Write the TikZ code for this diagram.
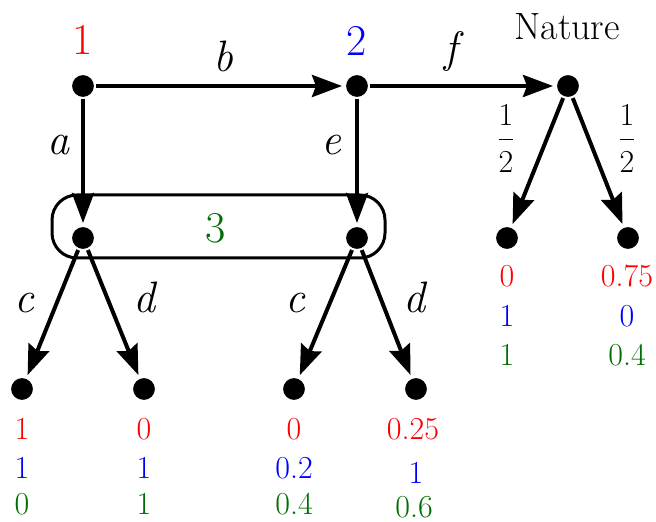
\documentclass[tikz,border=0pt]{standalone}
\usetikzlibrary{arrows.meta}
\definecolor{pred}{RGB}{255,0,0}
\definecolor{pblue}{RGB}{0,0,255}
\definecolor{pgreen}{RGB}{0,110,0}
\begin{document}
\begin{tikzpicture}[x=0.5pt,y=-0.5pt,
  dot/.style={circle,fill=black,draw=white,line width=1pt,inner sep=0pt,minimum size=12pt},
  edge/.style={line width=2pt,-{Stealth[length=15pt,width=11pt,inset=2pt]},shorten >=1pt},
  lab/.style={font=\fontsize{22}{26}\selectfont\itshape,anchor=base,inner sep=0pt},
  player/.style={font=\fontsize{22}{26}\selectfont,anchor=base,inner sep=0pt},
  pay/.style={font=\fontsize{16}{19}\selectfont,anchor=base,inner sep=0pt},
  frac/.style={font=\fontsize{16}{19}\selectfont,inner sep=0pt}]
\useasboundingbox (0,0) rectangle (656,522);
% information set
\draw[line width=1.5pt,rounded corners=12.5pt] (52,195) rectangle (385,258);
% nodes
\node[dot] (n1) at (83,86) {};
\node[dot] (n2) at (357,86) {};
\node[dot] (nat) at (568,86) {};
\node[dot] (n3a) at (83,238) {};
\node[dot] (n3b) at (357,238) {};
\node[dot] (nl) at (507,238) {};
\node[dot] (nr) at (628,238) {};
\node[dot] (l1) at (22,389) {};
\node[dot] (l2) at (144,389) {};
\node[dot] (l3) at (294,389) {};
\node[dot] (l4) at (416,389) {};
% edges
\draw[edge] (n1) -- (n2);
\draw[edge] (n2) -- (nat);
\draw[edge] (n1) -- (n3a);
\draw[edge] (n2) -- (n3b);
\draw[edge] (n3a) -- (l1);
\draw[edge] (n3a) -- (l2);
\draw[edge] (n3b) -- (l3);
\draw[edge] (n3b) -- (l4);
\draw[edge] (nat) -- (nl);
\draw[edge] (nat) -- (nr);
% player labels
\node[player,text=pred] (p1) at (83,55) {1};
\node[player,text=pblue] (p2) at (357,56) {2};
\node[player,text=pgreen] (p3) at (216,243) {3};
\node[font=\fontsize{19}{23}\selectfont,anchor=base,inner sep=0pt] (pn) at (567,40) {Nature};
% action labels
\node[lab] (lb) at (223,72) {b};
\node[lab] (lf) at (451,63) {f};
\node[lab] (la) at (58,155) {a};
\node[lab] (le) at (331,155) {e};
\node[lab] (lc1) at (24,313) {c};
\node[lab] (ld1) at (144,313) {d};
\node[lab] (lc2) at (295,313) {c};
\node[lab] (ld2) at (414,313) {d};
\node[frac] (fr1) at (506,138) {$\displaystyle\frac{\mbox{1}}{\mbox{2}}$};
\node[frac] (fr2) at (627,138) {$\displaystyle\frac{\mbox{1}}{\mbox{2}}$};
% payoffs
\node[pay,text=pred] (a1) at (22,439) {1};
\node[pay,text=pblue] (a2) at (22,478) {1};
\node[pay,text=pgreen] (a3) at (22,514) {0};
\node[pay,text=pred] (b1) at (144,439) {0};
\node[pay,text=pblue] (b2) at (144,478) {1};
\node[pay,text=pgreen] (b3) at (144,514) {1};
\node[pay,text=pred] (c1) at (294,439) {0};
\node[pay,text=pblue] (c2) at (294,478) {0.2};
\node[pay,text=pgreen] (c3) at (294,514) {0.4};
\node[pay,text=pred] (d1) at (413,439) {0.25};
\node[pay,text=pblue] (d2) at (416,483) {1};
\node[pay,text=pgreen] (d3) at (414,517) {0.6};
\node[pay,text=pred] (e1) at (507,287) {0};
\node[pay,text=pblue] (e2) at (507,327) {1};
\node[pay,text=pgreen] (e3) at (507,365) {1};
\node[pay,text=pred] (g1) at (627,287) {0.75};
\node[pay,text=pblue] (g2) at (627,327) {0};
\node[pay,text=pgreen] (g3) at (627,365) {0.4};
\end{tikzpicture}
\end{document}
